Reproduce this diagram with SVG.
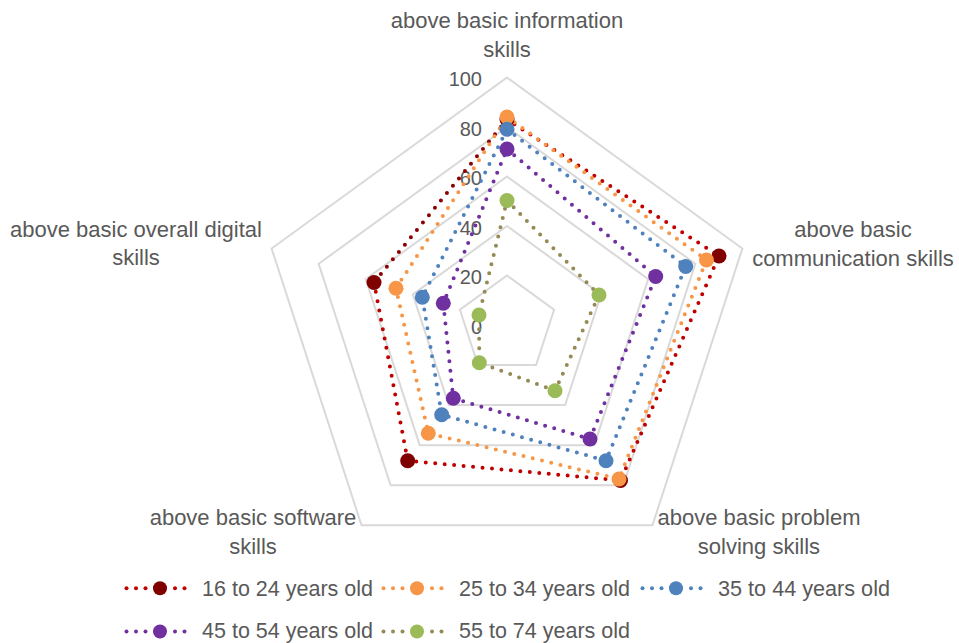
<svg xmlns="http://www.w3.org/2000/svg" width="959" height="643" viewBox="0 0 959 643">
<style>
.grid{fill:none;stroke:#D9D9D9;stroke-width:2}
.lbl{font-family:"Liberation Sans",Arial,sans-serif;font-size:22px;fill:#595959;text-anchor:middle}
.tick{font-family:"Liberation Sans",Arial,sans-serif;font-size:20px;fill:#595959;text-anchor:end}
.leg{font-family:"Liberation Sans",Arial,sans-serif;font-size:22px;fill:#595959}
.ser{fill:none;stroke-width:4;stroke-linecap:round;stroke-linejoin:round;stroke-dasharray:0 9.5}
</style>
<rect width="959" height="643" fill="#FFFFFF"/>
<g id="grid">
<polygon class="grid" points="507,275.5 554.08,309.7 536.1,365.05 477.9,365.05 459.92,309.7"/>
<polygon class="grid" points="507,226 601.15,294.41 565.19,405.09 448.81,405.09 412.85,294.41"/>
<polygon class="grid" points="507,176.5 648.23,279.11 594.29,445.14 419.71,445.14 365.77,279.11"/>
<polygon class="grid" points="507,127 695.31,263.81 623.38,485.19 390.62,485.19 318.69,263.81"/>
<polygon class="grid" points="507,77.5 742.39,248.52 652.48,525.23 361.52,525.23 271.61,248.52"/>
</g>
<g id="ticks">
<text class="tick" x="482" y="86">100</text>
<text class="tick" x="482" y="135.5">80</text>
<text class="tick" x="482" y="185">60</text>
<text class="tick" x="482" y="234.5">40</text>
<text class="tick" x="482" y="284">20</text>
<text class="tick" x="482" y="333.5">0</text>
</g>
<g id="axis-labels">
<text class="lbl" x="507" y="28">above basic information</text>
<text class="lbl" x="507" y="57">skills</text>
<text class="lbl" x="853" y="237">above basic</text>
<text class="lbl" x="853" y="266">communication skills</text>
<text class="lbl" x="759" y="525">above basic problem</text>
<text class="lbl" x="759" y="554">solving skills</text>
<text class="lbl" x="253" y="525">above basic software</text>
<text class="lbl" x="253" y="554">skills</text>
<text class="lbl" x="136" y="237">above basic overall digital</text>
<text class="lbl" x="136" y="265">skills</text>
</g>
<g id="connectors">
<polyline id="line-16-24" class="ser" stroke="#C00000" points="374,282.5 407.7,460.7 620.5,480.5 719,256 507,119.5"/>
<line class="ser" stroke="#8B0000" x1="507" y1="119.5" x2="374" y2="282.5"/>
<polygon id="line-25-34" class="ser" stroke="#F79646" points="507,117 706.5,260 619,479 428.3,433.3 396,288.3"/>
<polygon id="line-35-44" class="ser" stroke="#4F81BD" points="507,129.3 685.7,266.5 606,460.7 441.7,414.7 422.3,297.3"/>
<polygon id="line-45-54" class="ser" stroke="#7030A0" points="507,149 655.7,276.5 590,439 453.3,398.3 443.3,303.3"/>
<polygon id="line-55-74" class="ser" stroke="#948A54" points="507,200.5 599,295 555,390.7 479.3,362.7 479,315"/>
</g>
<g id="series-16-24" fill="#800000">
<circle cx="507" cy="119.5" r="7.5"/><circle cx="719" cy="256" r="7.5"/><circle cx="620.5" cy="480.5" r="7.5"/><circle cx="407.7" cy="460.7" r="7.5"/><circle cx="374" cy="282.5" r="7.5"/>
</g>
<g id="series-25-34" fill="#F79646">
<circle cx="507" cy="117" r="7.5"/><circle cx="706.5" cy="260" r="7.5"/><circle cx="619" cy="479" r="7.5"/><circle cx="428.3" cy="433.3" r="7.5"/><circle cx="396" cy="288.3" r="7.5"/>
</g>
<g id="series-35-44" fill="#4F81BD">
<circle cx="507" cy="129.3" r="7.5"/><circle cx="685.7" cy="266.5" r="7.5"/><circle cx="606" cy="460.7" r="7.5"/><circle cx="441.7" cy="414.7" r="7.5"/><circle cx="422.3" cy="297.3" r="7.5"/>
</g>
<g id="series-45-54" fill="#7030A0">
<circle cx="507" cy="149" r="7.5"/><circle cx="655.7" cy="276.5" r="7.5"/><circle cx="590" cy="439" r="7.5"/><circle cx="453.3" cy="398.3" r="7.5"/><circle cx="443.3" cy="303.3" r="7.5"/>
</g>
<g id="series-55-74" fill="#9BBB59">
<circle cx="507" cy="200.5" r="7.5"/><circle cx="599" cy="295" r="7.5"/><circle cx="555" cy="390.7" r="7.5"/><circle cx="479.3" cy="362.7" r="7.5"/><circle cx="479" cy="315" r="7.5"/>
</g>
<defs>
<g id="dots">
<circle cx="-33.5" cy="0" r="2"/><circle cx="-24" cy="0" r="2"/><circle cx="-14.5" cy="0" r="2"/><circle cx="15" cy="0" r="2"/><circle cx="24.5" cy="0" r="2"/>
</g>
</defs>
<g id="legend">
<g id="legend-16-24">
<use href="#dots" x="160" y="588.3" fill="#C00000"/>
<circle cx="160" cy="588.3" r="7" fill="#800000"/>
<text class="leg" x="202" y="596" textLength="171" lengthAdjust="spacingAndGlyphs">16 to 24 years old</text>
</g>
<g id="legend-25-34">
<use href="#dots" x="417" y="588.3" fill="#F79646"/>
<circle cx="417" cy="588.3" r="7" fill="#F79646"/>
<text class="leg" x="459" y="596" textLength="171" lengthAdjust="spacingAndGlyphs">25 to 34 years old</text>
</g>
<g id="legend-35-44">
<use href="#dots" x="676" y="588.3" fill="#4F81BD"/>
<circle cx="676" cy="588.3" r="7" fill="#4F81BD"/>
<text class="leg" x="718" y="596" textLength="172" lengthAdjust="spacingAndGlyphs">35 to 44 years old</text>
</g>
<g id="legend-45-54">
<use href="#dots" x="160" y="631.5" fill="#7030A0"/>
<circle cx="160" cy="631.5" r="7" fill="#7030A0"/>
<text class="leg" x="202" y="638" textLength="171" lengthAdjust="spacingAndGlyphs">45 to 54 years old</text>
</g>
<g id="legend-55-74">
<use href="#dots" x="417" y="631.5" fill="#948A54"/>
<circle cx="417" cy="631.5" r="7" fill="#9BBB59"/>
<text class="leg" x="459" y="638" textLength="171" lengthAdjust="spacingAndGlyphs">55 to 74 years old</text>
</g>
</g>
</svg>
